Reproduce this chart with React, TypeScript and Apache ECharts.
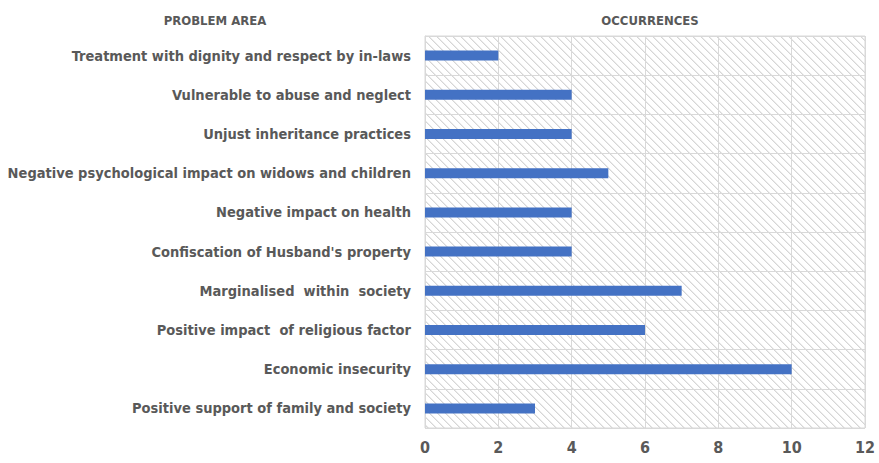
import React, { useEffect, useRef } from "react";
import * as echarts from "echarts";

const categories = [
  "Treatment with dignity and respect by in-laws",
  "Vulnerable to abuse and neglect",
  "Unjust inheritance practices",
  "Negative psychological impact on widows and children",
  "Negative impact on health",
  "Confiscation of Husband's property",
  "Marginalised  within  society",
  "Positive impact  of religious factor",
  "Economic insecurity",
  "Positive support of family and society",
];
const occurrences = [2, 4, 4, 5, 4, 4, 7, 6, 10, 3];
const leftHeader = "PROBLEM AREA";
const rightHeader = "OCCURRENCES";

const FONT = "'Liberation Sans Narrow', 'Arial Narrow', 'DejaVu Sans Condensed', sans-serif";
const TEXT = "#595959";

function makePattern() {
  const c = document.createElement("canvas");
  c.width = 8;
  c.height = 8;
  const ctx = c.getContext("2d")!;
  ctx.fillStyle = "#ffffff";
  ctx.fillRect(0, 0, 8, 8);
  for (let y = 0; y < 8; y++) {
    for (let x = 0; x < 8; x++) {
      const d = (((x - y) % 8) + 8) % 8;
      if (d === 0) {
        ctx.fillStyle = "#d6d6d6";
        ctx.fillRect(x, y, 1, 1);
      } else if (d === 1) {
        ctx.fillStyle = "#ebebeb";
        ctx.fillRect(x, y, 1, 1);
      }
    }
  }
  return { image: c, repeat: "repeat", imageWidth: 8, imageHeight: 8 };
}

export default function App() {
  const ref = useRef<HTMLDivElement>(null);
  useEffect(() => {
    document.body.style.margin = "0";
    const chart = echarts.init(ref.current!, null, { renderer: "svg" });
    chart.setOption({
      animation: false,
      backgroundColor: "#ffffff",
      grid: {
        show: true,
        left: 425,
        right: 14,
        top: 36,
        bottom: 35,
        outerBoundsMode: "none",
        containLabel: false,
        backgroundColor: makePattern() as any,
        borderColor: "#d9d9d9",
        borderWidth: 1,
      },
      title: [
        {
          text: leftHeader,
          left: 210,
          top: 9,
          textAlign: "center",
          textStyle: { fontFamily: FONT, fontWeight: "bold", fontSize: 13, color: TEXT },
        },
        {
          text: rightHeader,
          left: 645,
          top: 9,
          textAlign: "center",
          textStyle: { fontFamily: FONT, fontWeight: "bold", fontSize: 13, color: TEXT },
        },
      ],
      xAxis: {
        type: "value",
        min: 0,
        max: 12,
        interval: 2,
        axisLine: { show: false },
        axisTick: { show: false },
        splitLine: { show: true, lineStyle: { color: "#d9d9d9", width: 1 } },
        axisLabel: {
          fontFamily: FONT,
          fontWeight: "bold",
          fontSize: 16,
          color: TEXT,
          margin: 11,
        },
      },
      yAxis: {
        type: "category",
        data: categories,
        inverse: true,
        axisLine: { show: true, lineStyle: { color: "#d9d9d9" } },
        axisTick: { show: false },
        splitLine: { show: true, lineStyle: { color: "#d9d9d9", width: 1 } },
        axisLabel: {
          fontFamily: FONT,
          fontWeight: "bold",
          fontSize: 14.5,
          color: TEXT,
          margin: 14,
        },
      },
      series: [
        {
          type: "bar",
          data: occurrences,
          barWidth: 10,
          itemStyle: { color: "#4472c4" },
        },
      ],
    });
    return () => chart.dispose();
  }, []);
  return (
    <div
      ref={ref}
      style={{ position: "absolute", left: 0, top: 0, width: 879, height: 463 }}
    />
  );
}
